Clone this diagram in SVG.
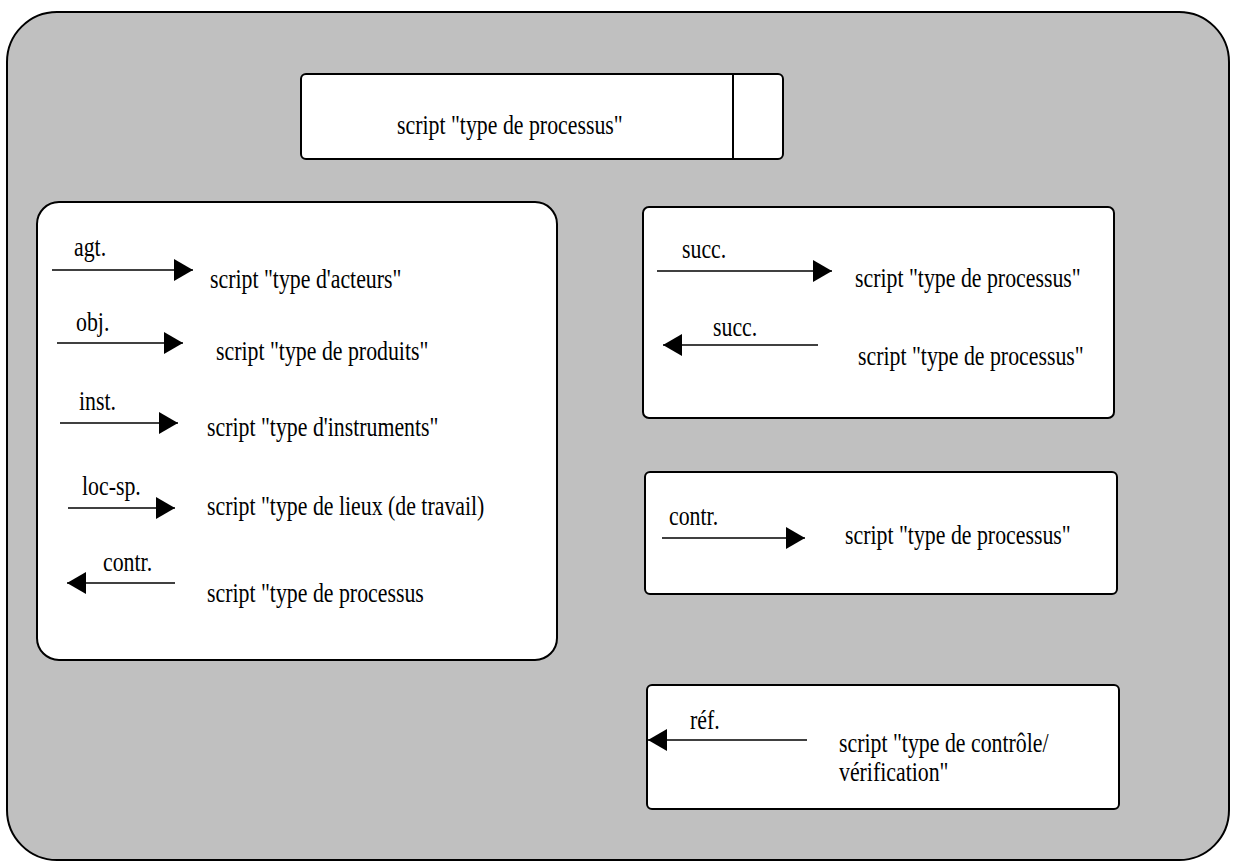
<svg xmlns="http://www.w3.org/2000/svg" width="1234" height="862" viewBox="0 0 1234 862">
  <style>
    .box { fill: #ffffff; stroke: #000000; stroke-width: 2; }
    .outer { fill: #c0c0c0; stroke: #000000; stroke-width: 2; }
    .t { font-family: "Liberation Serif", "Times New Roman", serif; font-size: 28px; fill: #000000; }
    .conn { stroke: #000000; stroke-width: 1.3; fill: none; marker-end: url(#arrow); }
  </style>
  <defs>
    <marker id="arrow" markerUnits="userSpaceOnUse" markerWidth="19" markerHeight="24" viewBox="0 0 19 24" refX="19" refY="12" orient="auto">
      <path d="M0,1 L19,12 L0,23 Z" fill="#000000"/>
    </marker>
  </defs>
  <rect id="background" class="outer" x="7" y="12" width="1222" height="848" rx="50" ry="50"/>

  <g id="node-main">
    <rect class="box" x="301" y="74" width="482" height="85" rx="5" ry="5"/>
    <line x1="733" y1="74" x2="733" y2="159" stroke="#000000" stroke-width="2"/>
    <text class="t" transform="translate(397 134) scale(0.78 1)">script "type de processus"</text>
  </g>

  <g id="node-left">
    <rect class="box" x="37" y="202" width="520" height="458" rx="22" ry="22"/>
    <text class="t" transform="translate(74 256) scale(0.78 1)">agt.</text>
    <text class="t" transform="translate(210 288) scale(0.78 1)">script "type d'acteurs"</text>
    <text class="t" transform="translate(76 331) scale(0.78 1)">obj.</text>
    <text class="t" transform="translate(216 360) scale(0.78 1)">script "type de produits"</text>
    <text class="t" transform="translate(79 410) scale(0.78 1)">inst.</text>
    <text class="t" transform="translate(207 436) scale(0.78 1)">script "type d'instruments"</text>
    <text class="t" transform="translate(82 495) scale(0.78 1)">loc-sp.</text>
    <text class="t" transform="translate(207 515) scale(0.78 1)">script "type de lieux (de travail)</text>
    <text class="t" transform="translate(103 571) scale(0.78 1)">contr.</text>
    <text class="t" transform="translate(207 602) scale(0.78 1)">script "type de processus</text>
  </g>

  <g id="node-succ">
    <rect class="box" x="643" y="207" width="471" height="211" rx="6" ry="6"/>
    <text class="t" transform="translate(682 258) scale(0.78 1)">succ.</text>
    <text class="t" transform="translate(855 287) scale(0.78 1)">script "type de processus"</text>
    <text class="t" transform="translate(713 336) scale(0.78 1)">succ.</text>
    <text class="t" transform="translate(858 365) scale(0.78 1)">script "type de processus"</text>
  </g>

  <g id="node-contr">
    <rect class="box" x="645" y="472" width="472" height="122" rx="5" ry="5"/>
    <text class="t" transform="translate(669 525) scale(0.78 1)">contr.</text>
    <text class="t" transform="translate(845 544) scale(0.78 1)">script "type de processus"</text>
  </g>

  <g id="node-ref">
    <rect class="box" x="647" y="685" width="472" height="124" rx="5" ry="5"/>
    <text class="t" transform="translate(690 729) scale(0.78 1)">réf.</text>
    <text class="t" transform="translate(839 752) scale(0.78 1)">script "type de contrôle/</text>
    <text class="t" transform="translate(839 781) scale(0.78 1)">vérification"</text>
  </g>

  <g id="connectors">
    <line class="conn" x1="52" y1="270" x2="193" y2="270"/>
    <line class="conn" x1="57" y1="343" x2="183" y2="343"/>
    <line class="conn" x1="60" y1="423" x2="178" y2="423"/>
    <line class="conn" x1="68" y1="508" x2="175" y2="508"/>
    <line class="conn" x1="175" y1="583" x2="67" y2="583"/>
    <line class="conn" x1="657" y1="271" x2="832" y2="271"/>
    <line class="conn" x1="818" y1="345" x2="663" y2="345"/>
    <line class="conn" x1="662" y1="538" x2="805" y2="538"/>
    <line class="conn" x1="807" y1="740" x2="648" y2="740"/>
  </g>
</svg>
